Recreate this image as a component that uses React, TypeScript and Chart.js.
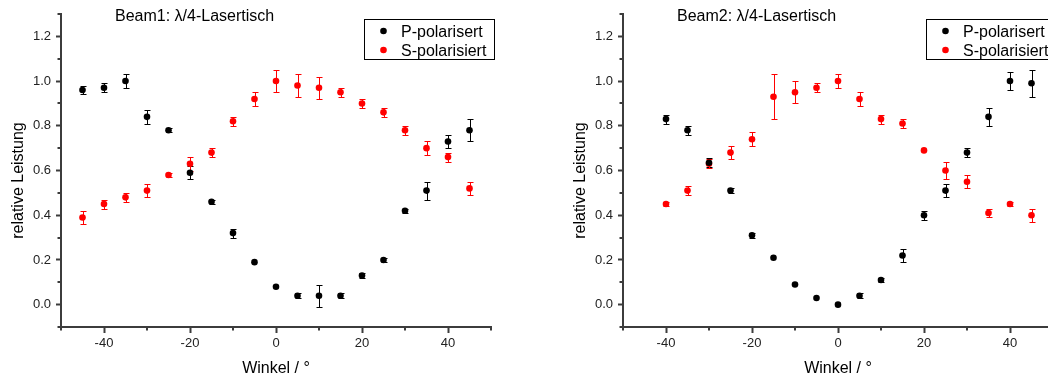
import React, { useEffect, useRef } from 'react';
import { Chart, registerables } from 'chart.js';

Chart.register(...registerables);

// ---------- data ----------
const beam1Angles = [-45, -40, -35, -30, -25, -20, -15, -10, -5, 0, 5, 10, 15, 20, 25, 30, 35, 40, 45];
const beam1P = [0.96, 0.97, 1.0, 0.84, 0.78, 0.59, 0.46, 0.32, 0.19, 0.08, 0.04, 0.04, 0.04, 0.13, 0.2, 0.42, 0.51, 0.73, 0.78];
const beam1PErr = [0.02, 0.02, 0.03, 0.03, 0.01, 0.03, 0.01, 0.02, 0, 0, 0.01, 0.05, 0.01, 0.01, 0.01, 0.01, 0.04, 0.03, 0.05];
const beam1S = [0.39, 0.45, 0.48, 0.51, 0.58, 0.63, 0.68, 0.82, 0.92, 1.0, 0.98, 0.97, 0.95, 0.9, 0.86, 0.78, 0.7, 0.66, 0.52];
const beam1SErr = [0.03, 0.02, 0.02, 0.03, 0.01, 0.03, 0.02, 0.02, 0.03, 0.05, 0.05, 0.05, 0.02, 0.02, 0.02, 0.02, 0.03, 0.02, 0.03];

const beam2Angles = [-40, -35, -30, -25, -20, -15, -10, -5, 0, 5, 10, 15, 20, 25, 30, 35, 40, 45];
const beam2P = [0.83, 0.78, 0.635, 0.51, 0.31, 0.21, 0.09, 0.03, 0.0, 0.04, 0.11, 0.22, 0.4, 0.51, 0.68, 0.84, 1.0, 0.99];
const beam2PErr = [0.02, 0.02, 0.02, 0.01, 0.01, 0, 0, 0, 0, 0.01, 0.01, 0.03, 0.02, 0.03, 0.02, 0.04, 0.04, 0.06];
const beam2S = [0.45, 0.51, 0.63, 0.68, 0.74, 0.93, 0.95, 0.97, 1.0, 0.92, 0.83, 0.81, 0.69, 0.6, 0.55, 0.41, 0.45, 0.4];
const beam2SErr = [0.01, 0.02, 0.02, 0.03, 0.03, 0.1, 0.05, 0.02, 0.03, 0.03, 0.02, 0.02, 0, 0.04, 0.03, 0.02, 0.01, 0.03];

const xMajorTicks = [-40, -20, 0, 20, 40];
const xMinorTicks = [-50, -30, -10, 10, 30, 50];
const yMajorTicks = [0, 0.2, 0.4, 0.6, 0.8, 1.0, 1.2];
const yMinorTicks = [-0.1, 0.1, 0.3, 0.5, 0.7, 0.9, 1.1, 1.3];

const seriesLabels = ['P-polarisert', 'S-polarisiert'];
const xTitle = 'Winkel / °';
const yTitle = 'relative Leistung';

// ---------- styles ----------
const FONT = '"Liberation Sans", Arial, sans-serif';
const AXIS_COLOR = '#3c3c3c';
const COLORS = ['#000000', '#ff0000'];

const errorBarPlugin = {
  id: 'errorBars',
  beforeDatasetsDraw(chart: any) {
    const { ctx } = chart;
    const xs = chart.scales.x;
    const ys = chart.scales.y;
    ctx.save();
    chart.data.datasets.forEach((ds: any) => {
      const errs: number[] = ds.errors || [];
      ctx.strokeStyle = ds.backgroundColor;
      ctx.lineWidth = 1;
      ds.data.forEach((p: any, j: number) => {
        const e = errs[j];
        if (!e) return;
        const px = Math.round(xs.getPixelForValue(p.x)) + 0.5;
        const y1 = Math.round(ys.getPixelForValue(p.y + e)) + 0.5;
        const y2 = Math.round(ys.getPixelForValue(p.y - e)) + 0.5;
        ctx.beginPath();
        ctx.moveTo(px, y1);
        ctx.lineTo(px, y2);
        ctx.moveTo(px - 3, y1);
        ctx.lineTo(px + 3, y1);
        ctx.moveTo(px - 3, y2);
        ctx.lineTo(px + 3, y2);
        ctx.stroke();
      });
    });
    ctx.restore();
  },
};

const decorPlugin = {
  id: 'decor',
  afterDraw(chart: any, _args: any, opts: any) {
    const { ctx, chartArea } = chart;
    const xs = chart.scales.x;
    const ys = chart.scales.y;
    ctx.save();
    // minor ticks
    ctx.strokeStyle = AXIS_COLOR;
    ctx.lineWidth = 2;
    xMinorTicks.forEach((v) => {
      const px = Math.round(xs.getPixelForValue(v));
      ctx.beginPath();
      ctx.moveTo(px, chartArea.bottom);
      ctx.lineTo(px, chartArea.bottom + 3.5);
      ctx.stroke();
    });
    yMinorTicks.forEach((v) => {
      const py = Math.round(ys.getPixelForValue(v));
      ctx.beginPath();
      ctx.moveTo(chartArea.left, py);
      ctx.lineTo(chartArea.left - 3.5, py);
      ctx.stroke();
    });

    ctx.fillStyle = '#000';
    ctx.font = `16px ${FONT}`;
    ctx.textBaseline = 'alphabetic';

    // panel title
    ctx.textAlign = 'left';
    ctx.fillText(opts.title, 115, 21);

    // x title
    ctx.textAlign = 'center';
    ctx.fillText(xTitle, (chartArea.left + chartArea.right) / 2, 372.5);

    // y title
    ctx.save();
    ctx.translate(23, 180.5);
    ctx.rotate(-Math.PI / 2);
    ctx.fillText(yTitle, 0, 0);
    ctx.restore();

    // legend
    const bx = 364.5;
    const by = 19.5;
    ctx.fillStyle = '#fff';
    ctx.fillRect(bx, by, 130, 40);
    ctx.strokeStyle = '#000';
    ctx.lineWidth = 1;
    ctx.strokeRect(bx, by, 130, 40);
    ctx.textAlign = 'left';
    seriesLabels.forEach((lab, i) => {
      ctx.fillStyle = COLORS[i];
      ctx.beginPath();
      ctx.arc(383.5, 31 + i * 19, 3.3, 0, Math.PI * 2);
      ctx.fill();
      ctx.fillStyle = '#000';
      ctx.fillText(lab, 401, 36.5 + i * 19);
    });
    ctx.restore();
  },
};

type PanelProps = {
  title: string;
  angles: number[];
  p: number[];
  pErr: number[];
  s: number[];
  sErr: number[];
  left: number;
};

function Panel({ title, angles, p, pErr, s, sErr, left }: PanelProps) {
  const ref = useRef<HTMLCanvasElement>(null);
  useEffect(() => {
    if (!ref.current) return;
    const mk = (vals: number[]) => angles.map((a, i) => ({ x: a, y: vals[i] }));
    const chart = new Chart(ref.current, {
      type: 'scatter',
      data: {
        datasets: [
          {
            label: seriesLabels[0],
            data: mk(p),
            errors: pErr,
            backgroundColor: COLORS[0],
            borderColor: COLORS[0],
            pointRadius: 3.3,
            pointBorderWidth: 0,
          } as any,
          {
            label: seriesLabels[1],
            data: mk(s),
            errors: sErr,
            backgroundColor: COLORS[1],
            borderColor: COLORS[1],
            pointRadius: 3.3,
            pointBorderWidth: 0,
          } as any,
        ],
      },
      options: {
        animation: false,
        responsive: false,
        devicePixelRatio: 1,
        layout: { padding: { left: 0, right: 29, top: 14, bottom: 0 } },
        plugins: {
          legend: { display: false },
          tooltip: { enabled: false },
          decor: { title },
        } as any,
        scales: {
          x: {
            type: 'linear',
            min: -50,
            max: 50,
            afterBuildTicks: (sc: any) => {
              sc.ticks = xMajorTicks.map((v) => ({ value: v }));
            },
            afterFit: (sc: any) => {
              sc.height = 54;
            },
            grid: {
              display: true,
              drawOnChartArea: false,
              drawTicks: true,
              tickLength: 6,
              tickWidth: 2,
              tickColor: AXIS_COLOR,
              color: AXIS_COLOR,
            },
            border: { display: true, color: AXIS_COLOR, width: 2 },
            ticks: {
              font: { family: FONT, size: 13 },
              color: '#222',
              padding: 3,
              maxRotation: 0,
              autoSkip: false,
              callback: (v: any) => String(v),
            },
          },
          y: {
            type: 'linear',
            min: -0.1,
            max: 1.3,
            afterBuildTicks: (sc: any) => {
              sc.ticks = yMajorTicks.map((v) => ({ value: v }));
            },
            afterFit: (sc: any) => {
              sc.width = 61;
            },
            grid: {
              display: true,
              drawOnChartArea: false,
              drawTicks: true,
              tickLength: 5,
              tickWidth: 2,
              tickColor: AXIS_COLOR,
              color: AXIS_COLOR,
            },
            border: { display: true, color: AXIS_COLOR, width: 2 },
            ticks: {
              font: { family: FONT, size: 13 },
              color: '#222',
              padding: 5,
              autoSkip: false,
              callback: (v: any) => Number(v).toFixed(1),
            },
          },
        },
      } as any,
      plugins: [errorBarPlugin, decorPlugin],
    });
    return () => chart.destroy();
  }, []);
  return (
    <canvas
      ref={ref}
      width={520}
      height={381}
      style={{ position: 'absolute', left, top: 0, width: 520, height: 381 }}
    />
  );
}

export default function App() {
  return (
    <div
      style={{
        position: 'absolute',
        left: 0,
        top: 0,
        width: 1048,
        height: 381,
        overflow: 'hidden',
        background: '#fff',
      }}
    >
      <Panel
        title="Beam1: λ/4-Lasertisch"
        angles={beam1Angles}
        p={beam1P}
        pErr={beam1PErr}
        s={beam1S}
        sErr={beam1SErr}
        left={0}
      />
      <Panel
        title="Beam2: λ/4-Lasertisch"
        angles={beam2Angles}
        p={beam2P}
        pErr={beam2PErr}
        s={beam2S}
        sErr={beam2SErr}
        left={562}
      />
    </div>
  );
}
